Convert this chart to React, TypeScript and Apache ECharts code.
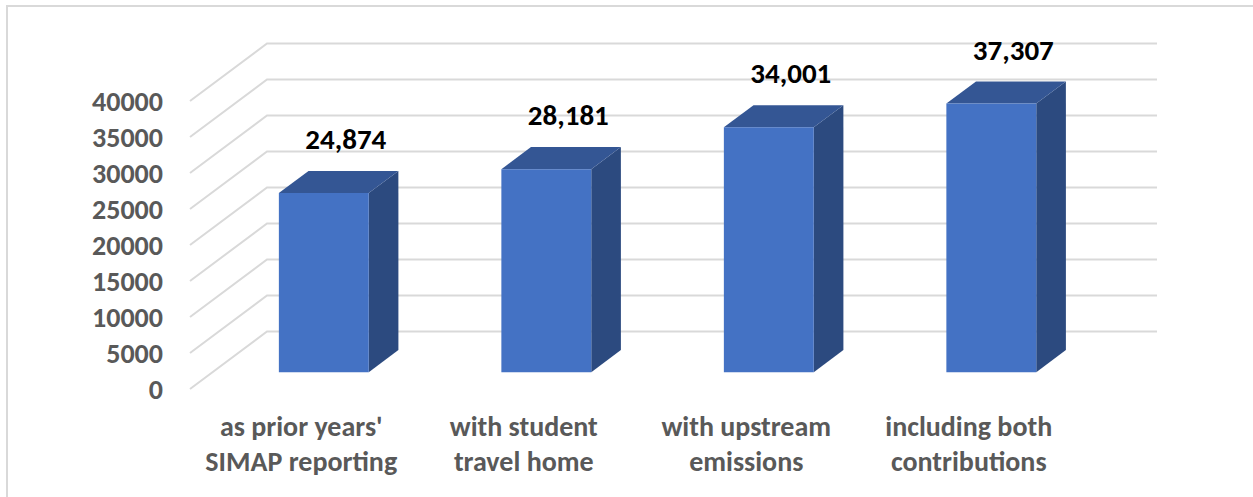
import React, { useEffect, useRef } from "react";
import * as echarts from "echarts";

const categories = [
  "as prior years'\nSIMAP reporting",
  "with student\ntravel home",
  "with upstream\nemissions",
  "including both\ncontributions",
];
const values = [24874, 28181, 34001, 37307];
const yTicks = [0, 5000, 10000, 15000, 20000, 25000, 30000, 35000, 40000];

const FONT = "Carlito, 'Open Sans', sans-serif";
const DX = 77;
const DY = -57.5;
const FRONT = 0.293;
const DEPTH = 0.385;

export default function App() {
  const ref = useRef<HTMLDivElement>(null);
  useEffect(() => {
    if (!ref.current) return;
    const chart = echarts.init(ref.current, undefined, { renderer: "svg" });
    const fmt = (v: number) => v.toLocaleString("en-US");
    chart.setOption({
      animation: false,
      backgroundColor: "#ffffff",
      graphic: [
        {
          type: "rect",
          shape: { x: 7, y: 6, width: 1300, height: 600 },
          style: { fill: "none", stroke: "#D9D9D9", lineWidth: 2 },
          silent: true,
          z: -10,
        },
      ],
      grid: { left: 190, top: 101, width: 890, height: 288 },
      xAxis: {
        type: "category",
        data: categories,
        axisLine: { show: false },
        axisTick: { show: false },
        axisLabel: {
          interval: 0,
          color: "#595959",
          fontFamily: FONT,
          fontWeight: "bold",
          fontSize: 28,
          lineHeight: 35,
          margin: 20,
        },
        splitLine: { show: false },
      },
      yAxis: {
        type: "value",
        min: 0,
        max: 40000,
        interval: 5000,
        axisLine: { show: false },
        axisTick: { show: false },
        splitLine: { show: false },
        axisLabel: {
          color: "#595959",
          fontFamily: FONT,
          fontWeight: "bold",
          fontSize: 28,
          margin: 27,
          formatter: (v: number) => String(v),
        },
      },
      series: [
        {
          type: "custom",
          name: "grid",
          silent: true,
          z: 1,
          data: yTicks.map((v) => [0, v]),
          renderItem: (params: any, api: any) => {
            const cs = params.coordSys;
            const y = api.coord([0, api.value(1)])[1];
            const x0 = cs.x;
            return {
              type: "polyline",
              shape: {
                points: [
                  [x0, y],
                  [x0 + DX, y + DY],
                  [x0 + cs.width + DX, y + DY],
                ],
              },
              style: { stroke: "#D9D9D9", lineWidth: 2, fill: "none" },
            };
          },
        },
        {
          type: "custom",
          name: "bars",
          z: 2,
          data: values.map((v, i) => [i, v]),
          renderItem: (params: any, api: any) => {
            const i = api.value(0);
            const v = api.value(1);
            const top = api.coord([i, v]);
            const base = api.coord([i, 0]);
            const band = api.size([1, 0])[0];
            const bw = band * 0.404;
            const fx = DX * FRONT;
            const fy = DY * FRONT;
            const dx = DX * DEPTH;
            const dy = DY * DEPTH;
            const xl = top[0] - bw / 2 + fx;
            const xr = xl + bw;
            const yt = top[1] + fy;
            const yb = base[1] + fy;
            return {
              type: "group",
              children: [
                {
                  type: "polygon",
                  shape: { points: [[xr, yt], [xr + dx, yt + dy], [xr + dx, yb + dy], [xr, yb]] },
                  style: { fill: "#2C4A7F" },
                },
                {
                  type: "polygon",
                  shape: { points: [[xl, yt], [xl + dx, yt + dy], [xr + dx, yt + dy], [xr, yt]] },
                  style: { fill: "#345694" },
                },
                {
                  type: "rect",
                  shape: { x: xl, y: yt, width: bw, height: yb - yt },
                  style: { fill: "#4472C4" },
                },
                {
                  type: "text",
                  x: (xl + xr) / 2 + 22,
                  y: yt - 54,
                  style: {
                    text: fmt(v),
                    fill: "#000000",
                    font: `bold 29px ${FONT}`,
                    align: "center",
                    verticalAlign: "middle",
                  },
                },
              ],
            };
          },
        },
      ],
    });
    return () => chart.dispose();
  }, []);
  return (
    <div
      ref={ref}
      style={{ position: "fixed", left: 0, top: 0, width: 1253, height: 497 }}
    />
  );
}
